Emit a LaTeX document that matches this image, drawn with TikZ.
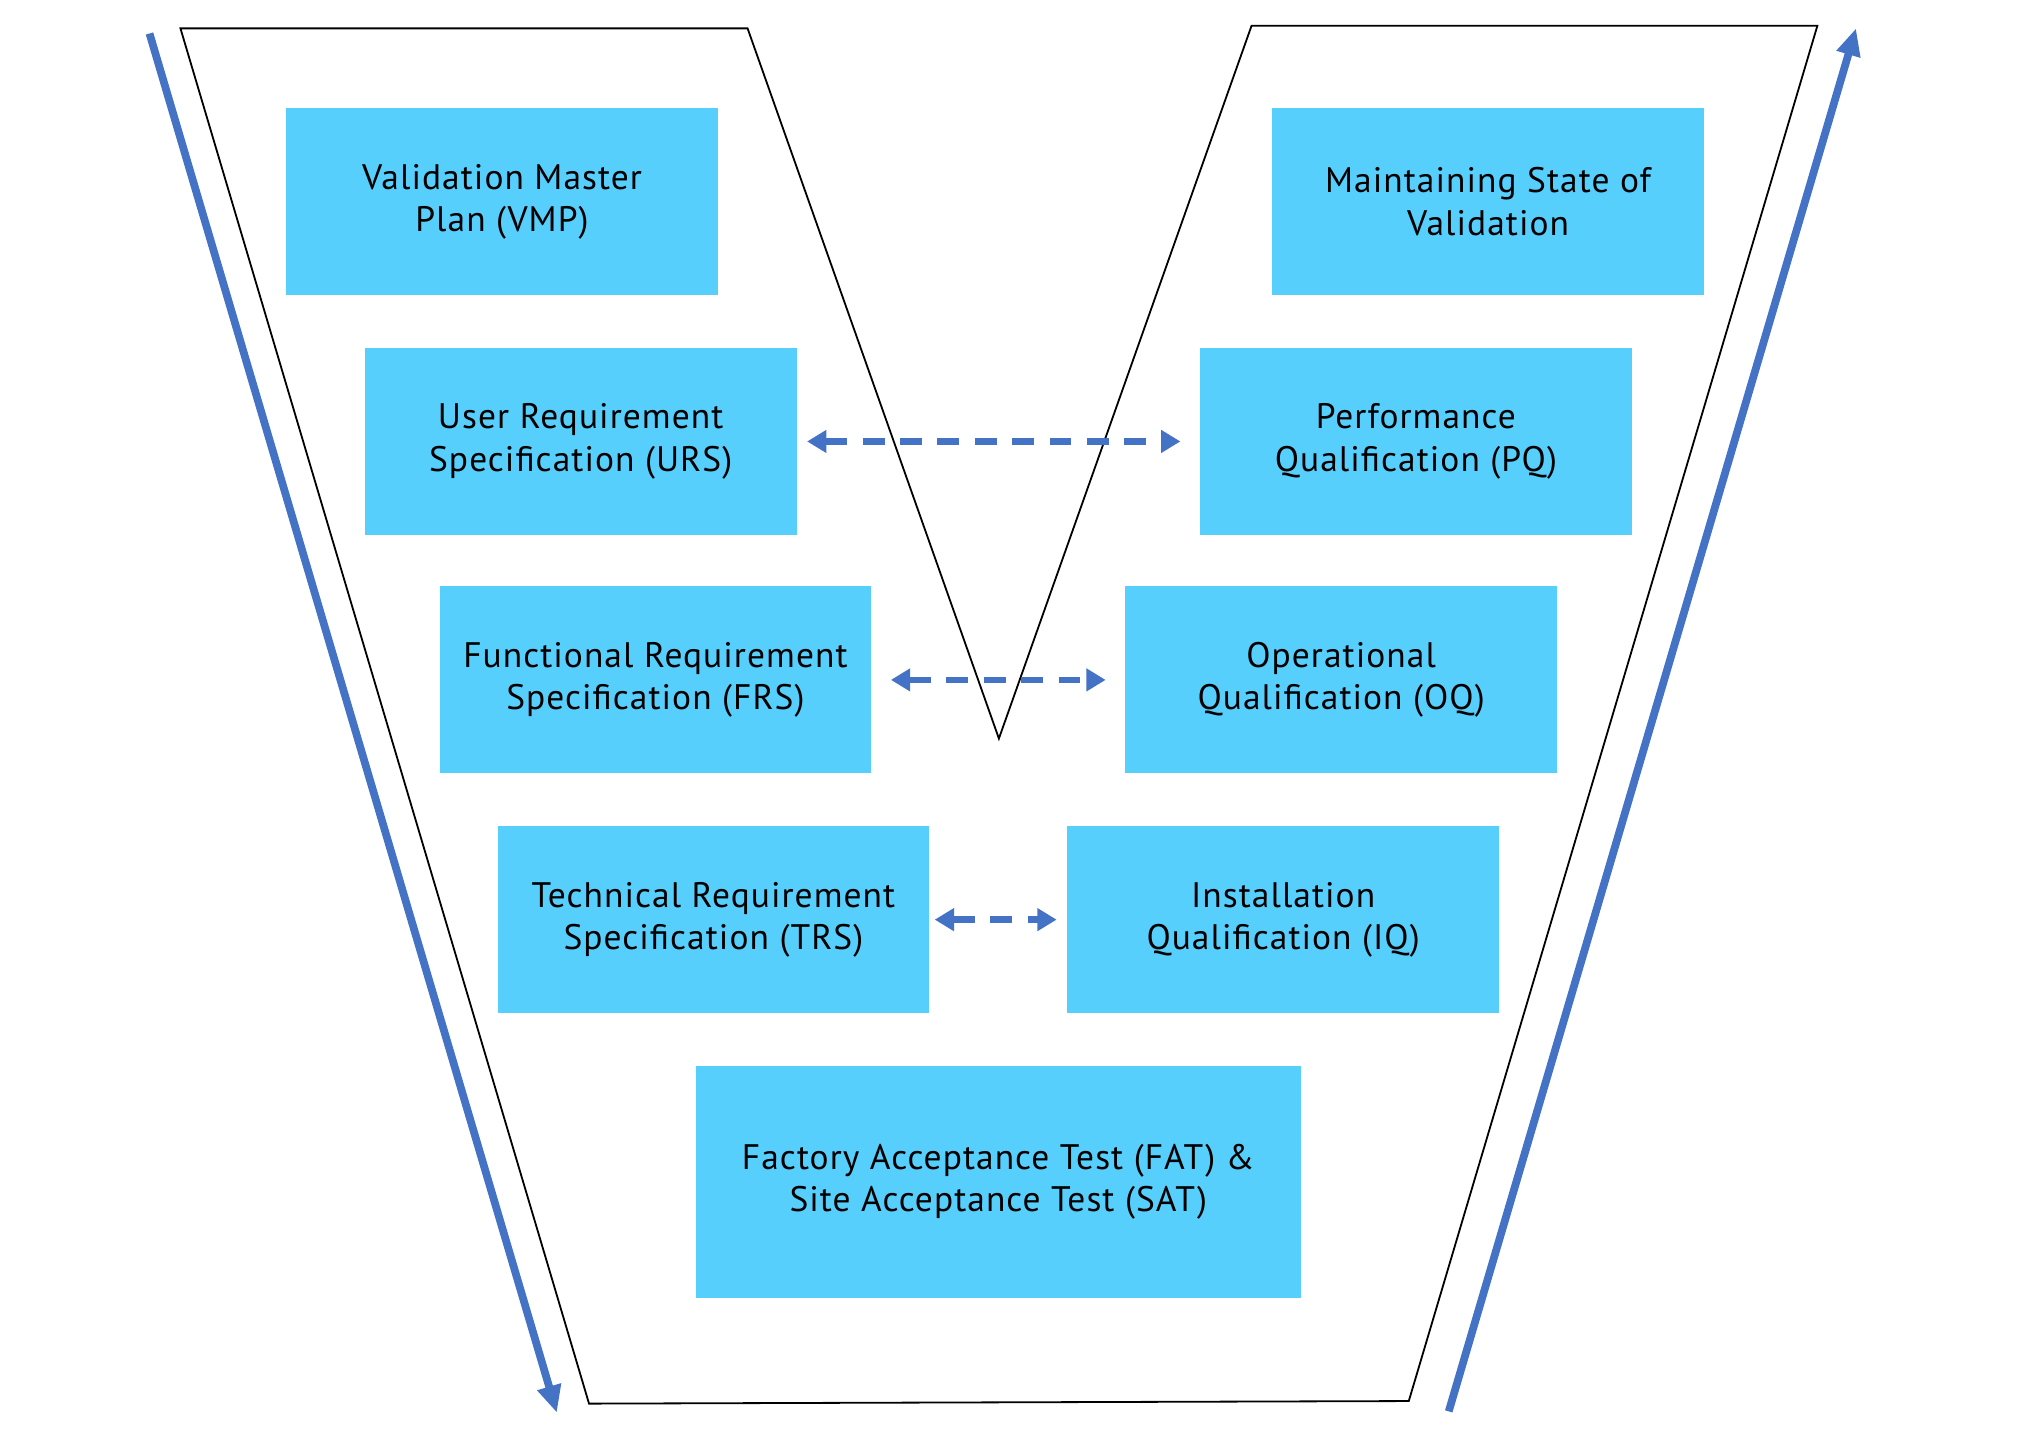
\documentclass[tikz,border=0pt]{standalone}
\usepackage{fontspec}
\setmainfont{PT Sans}[LetterSpace=3]
\usetikzlibrary{arrows.meta}
\definecolor{boxblue}{HTML}{57CFFD}
\definecolor{arrblue}{HTML}{4472C4}
\begin{document}
\begin{tikzpicture}[x=1pt,y=-1pt,
  vbox/.style={fill=boxblue, draw=none, inner sep=0pt, minimum width=335pt, minimum height=145pt,
    align=center, font=\fontsize{27.5}{33}\selectfont, text=black},
  bigarrow/.style={arrblue, line width=6pt, -{Triangle[length=21pt,width=18pt]}},
  dasharrow/.style={arrblue, line width=5pt, dash pattern=on 17pt off 12pt,
    {Triangle[length=15pt,width=17pt]}-{Triangle[length=15pt,width=17pt]}},
  outline/.style={draw=black, line width=1.4pt, line join=miter}]
\useasboundingbox (0,0) rectangle (1568,1119);
\fill[white] (0,0) rectangle (1568,1119);
% outline
\coordinate (tl) at (140,22);
\coordinate (tm1) at (580,22);
\coordinate (apex) at (775,573);
\coordinate (tm2) at (971,20);
\coordinate (tr) at (1410,20);
\coordinate (br) at (1093,1087);
\coordinate (bl) at (457,1089);
\draw[outline] (tl) -- (tm1) -- (apex) -- (tm2) -- (tr) -- (br) -- (bl) -- cycle;
% boxes
\node[vbox] (vmp) at (389.5,156.5) {Validation Master\\Plan (VMP)};
\node[vbox] (msv) at (1154.5,156.5) {Maintaining State of\\Validation};
\node[vbox] (urs) at (450.5,342.5) {User Requirement\\Specification (URS)};
\node[vbox] (pq) at (1098.5,342.5) {Performance\\Qualification (PQ)};
\node[vbox] (frs) at (508.5,527.5) {Functional Requirement\\Specification (FRS)};
\node[vbox] (oq) at (1040.5,527.5) {Operational\\Qualification (OQ)};
\node[vbox] (trs) at (553.5,713.5) {Technical Requirement\\Specification (TRS)};
\node[vbox] (iq) at (995.5,713.5) {Installation\\Qualification (IQ)};
\node[vbox, minimum width=469pt, minimum height=180pt] (fat) at (774.5,917) {Factory Acceptance Test (FAT) \&\\Site Acceptance Test (SAT)};
% dashed connectors
\draw[dasharrow] ([xshift=8pt]urs.east) -- ([xshift=-15pt]pq.west);
\draw[dasharrow] ([xshift=15pt]frs.east) -- ([xshift=-15pt]oq.west);
\draw[dasharrow] ([xshift=4pt]trs.east) -- ([xshift=-8pt]iq.west);
% side arrows
\coordinate (ls) at (116,26);
\coordinate (le) at (432,1096);
\coordinate (rs) at (1124,1095);
\coordinate (re) at (1440,22);
\draw[bigarrow] (ls) -- (le);
\draw[bigarrow] (rs) -- (re);
\end{tikzpicture}
\end{document}
